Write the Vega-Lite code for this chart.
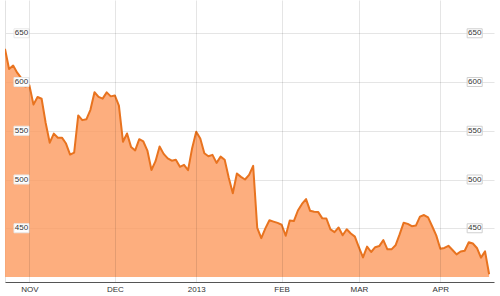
{
  "$schema": "https://vega.github.io/schema/vega-lite/v6.json",
  "width": 489,
  "height": 282,
  "autosize": {"type": "none"},
  "padding": {"left": 5, "right": 6, "top": 0, "bottom": 14},
  "background": "white",
  "config": {
    "view": {"stroke": null},
    "font": "Liberation Sans",
    "axis": {"labelFont": "Liberation Sans"}
  },
  "datasets": {
    "ticks": [{"v": 450}, {"v": 500}, {"v": 550}, {"v": 600}, {"v": 650}],
    "prices": [
      {"date": "2012-10-22", "day": 0, "close": 634.03},
      {"date": "2012-10-23", "day": 1, "close": 613.36},
      {"date": "2012-10-24", "day": 2, "close": 616.83},
      {"date": "2012-10-25", "day": 3, "close": 609.54},
      {"date": "2012-10-26", "day": 4, "close": 604.0},
      {"date": "2012-10-31", "day": 5, "close": 595.32},
      {"date": "2012-11-01", "day": 6, "close": 596.54},
      {"date": "2012-11-02", "day": 7, "close": 576.8},
      {"date": "2012-11-05", "day": 8, "close": 584.62},
      {"date": "2012-11-06", "day": 9, "close": 582.85},
      {"date": "2012-11-07", "day": 10, "close": 558.0},
      {"date": "2012-11-08", "day": 11, "close": 537.75},
      {"date": "2012-11-09", "day": 12, "close": 547.06},
      {"date": "2012-11-12", "day": 13, "close": 542.83},
      {"date": "2012-11-13", "day": 14, "close": 542.9},
      {"date": "2012-11-14", "day": 15, "close": 536.88},
      {"date": "2012-11-15", "day": 16, "close": 525.62},
      {"date": "2012-11-16", "day": 17, "close": 527.68},
      {"date": "2012-11-19", "day": 18, "close": 565.73},
      {"date": "2012-11-20", "day": 19, "close": 560.91},
      {"date": "2012-11-21", "day": 20, "close": 561.7},
      {"date": "2012-11-23", "day": 21, "close": 571.5},
      {"date": "2012-11-26", "day": 22, "close": 589.53},
      {"date": "2012-11-27", "day": 23, "close": 584.78},
      {"date": "2012-11-28", "day": 24, "close": 582.94},
      {"date": "2012-11-29", "day": 25, "close": 589.36},
      {"date": "2012-11-30", "day": 26, "close": 585.28},
      {"date": "2012-12-03", "day": 27, "close": 586.19},
      {"date": "2012-12-04", "day": 28, "close": 575.85},
      {"date": "2012-12-05", "day": 29, "close": 538.79},
      {"date": "2012-12-06", "day": 30, "close": 547.24},
      {"date": "2012-12-07", "day": 31, "close": 533.25},
      {"date": "2012-12-10", "day": 32, "close": 529.82},
      {"date": "2012-12-11", "day": 33, "close": 541.39},
      {"date": "2012-12-12", "day": 34, "close": 539.0},
      {"date": "2012-12-13", "day": 35, "close": 529.69},
      {"date": "2012-12-14", "day": 36, "close": 509.79},
      {"date": "2012-12-17", "day": 37, "close": 518.83},
      {"date": "2012-12-18", "day": 38, "close": 533.9},
      {"date": "2012-12-19", "day": 39, "close": 526.31},
      {"date": "2012-12-20", "day": 40, "close": 521.73},
      {"date": "2012-12-21", "day": 41, "close": 519.33},
      {"date": "2012-12-24", "day": 42, "close": 520.17},
      {"date": "2012-12-26", "day": 43, "close": 513.0},
      {"date": "2012-12-27", "day": 44, "close": 515.06},
      {"date": "2012-12-28", "day": 45, "close": 509.59},
      {"date": "2012-12-31", "day": 46, "close": 532.17},
      {"date": "2013-01-02", "day": 47, "close": 549.03},
      {"date": "2013-01-03", "day": 48, "close": 542.1},
      {"date": "2013-01-04", "day": 49, "close": 527.0},
      {"date": "2013-01-07", "day": 50, "close": 523.9},
      {"date": "2013-01-08", "day": 51, "close": 525.31},
      {"date": "2013-01-09", "day": 52, "close": 517.1},
      {"date": "2013-01-10", "day": 53, "close": 523.51},
      {"date": "2013-01-11", "day": 54, "close": 520.3},
      {"date": "2013-01-14", "day": 55, "close": 501.75},
      {"date": "2013-01-15", "day": 56, "close": 485.92},
      {"date": "2013-01-16", "day": 57, "close": 506.09},
      {"date": "2013-01-17", "day": 58, "close": 502.68},
      {"date": "2013-01-18", "day": 59, "close": 500.0},
      {"date": "2013-01-22", "day": 60, "close": 504.77},
      {"date": "2013-01-23", "day": 61, "close": 514.01},
      {"date": "2013-01-24", "day": 62, "close": 450.5},
      {"date": "2013-01-25", "day": 63, "close": 439.88},
      {"date": "2013-01-28", "day": 64, "close": 449.83},
      {"date": "2013-01-29", "day": 65, "close": 458.27},
      {"date": "2013-01-30", "day": 66, "close": 456.83},
      {"date": "2013-01-31", "day": 67, "close": 455.49},
      {"date": "2013-02-01", "day": 68, "close": 453.62},
      {"date": "2013-02-04", "day": 69, "close": 442.32},
      {"date": "2013-02-05", "day": 70, "close": 457.84},
      {"date": "2013-02-06", "day": 71, "close": 457.35},
      {"date": "2013-02-07", "day": 72, "close": 468.22},
      {"date": "2013-02-08", "day": 73, "close": 474.98},
      {"date": "2013-02-11", "day": 74, "close": 479.93},
      {"date": "2013-02-12", "day": 75, "close": 467.9},
      {"date": "2013-02-13", "day": 76, "close": 467.01},
      {"date": "2013-02-14", "day": 77, "close": 466.59},
      {"date": "2013-02-15", "day": 78, "close": 460.16},
      {"date": "2013-02-19", "day": 79, "close": 459.99},
      {"date": "2013-02-20", "day": 80, "close": 448.85},
      {"date": "2013-02-21", "day": 81, "close": 446.06},
      {"date": "2013-02-22", "day": 82, "close": 450.81},
      {"date": "2013-02-25", "day": 83, "close": 442.8},
      {"date": "2013-02-26", "day": 84, "close": 448.97},
      {"date": "2013-02-27", "day": 85, "close": 444.57},
      {"date": "2013-02-28", "day": 86, "close": 441.4},
      {"date": "2013-03-01", "day": 87, "close": 430.47},
      {"date": "2013-03-04", "day": 88, "close": 420.05},
      {"date": "2013-03-05", "day": 89, "close": 431.14},
      {"date": "2013-03-06", "day": 90, "close": 425.66},
      {"date": "2013-03-07", "day": 91, "close": 430.58},
      {"date": "2013-03-08", "day": 92, "close": 431.72},
      {"date": "2013-03-11", "day": 93, "close": 437.87},
      {"date": "2013-03-12", "day": 94, "close": 428.43},
      {"date": "2013-03-13", "day": 95, "close": 428.35},
      {"date": "2013-03-14", "day": 96, "close": 432.5},
      {"date": "2013-03-15", "day": 97, "close": 443.66},
      {"date": "2013-03-18", "day": 98, "close": 455.72},
      {"date": "2013-03-19", "day": 99, "close": 454.49},
      {"date": "2013-03-20", "day": 100, "close": 452.08},
      {"date": "2013-03-21", "day": 101, "close": 452.73},
      {"date": "2013-03-22", "day": 102, "close": 461.91},
      {"date": "2013-03-25", "day": 103, "close": 463.58},
      {"date": "2013-03-26", "day": 104, "close": 461.14},
      {"date": "2013-03-27", "day": 105, "close": 452.08},
      {"date": "2013-03-28", "day": 106, "close": 442.66},
      {"date": "2013-04-01", "day": 107, "close": 428.91},
      {"date": "2013-04-02", "day": 108, "close": 429.79},
      {"date": "2013-04-03", "day": 109, "close": 431.99},
      {"date": "2013-04-04", "day": 110, "close": 427.72},
      {"date": "2013-04-05", "day": 111, "close": 423.2},
      {"date": "2013-04-08", "day": 112, "close": 426.21},
      {"date": "2013-04-09", "day": 113, "close": 426.98},
      {"date": "2013-04-10", "day": 114, "close": 435.69},
      {"date": "2013-04-11", "day": 115, "close": 434.33},
      {"date": "2013-04-12", "day": 116, "close": 429.8},
      {"date": "2013-04-15", "day": 117, "close": 419.85},
      {"date": "2013-04-16", "day": 118, "close": 426.24},
      {"date": "2013-04-17", "day": 119, "close": 402.8}
    ]
  },
  "layer": [
    {
      "data": {"name": "prices"},
      "mark": {"type": "area", "color": "#fd9a5e", "opacity": 0.8, "clip": true},
      "encoding": {
        "x": {
          "field": "day", "type": "quantitative",
          "scale": {"domain": [0, 120.2], "nice": false, "zero": false},
          "axis": {
            "title": null,
            "values": [6, 27, 47, 68, 87, 107],
            "labelExpr": "datum.value == 6 ? 'NOV' : datum.value == 27 ? 'DEC' : datum.value == 47 ? '2013' : datum.value == 68 ? 'FEB' : datum.value == 87 ? 'MAR' : 'APR'",
            "grid": true, "gridColor": "#000", "gridOpacity": 0.1, "gridWidth": 1,
            "ticks": false, "labelPadding": 3, "labelFontSize": 8, "labelColor": "#333",
            "labelFlush": false, "domainColor": "#555", "domainWidth": 1, "zindex": 1
          }
        },
        "y": {
          "field": "close", "type": "quantitative",
          "scale": {"domain": [400, 679], "nice": false, "zero": false},
          "axis": {
            "title": null, "values": [450, 500, 550, 600, 650], "labels": false, "ticks": false,
            "grid": true, "gridColor": "#000", "gridOpacity": 0.1, "domainColor": "#e2e2e2"
          }
        },
        "y2": {"datum": 400}
      }
    },
    {
      "data": {"name": "prices"},
      "mark": {"type": "line", "color": "#e8731f", "strokeWidth": 2, "strokeJoin": "round", "clip": true},
      "encoding": {
        "x": {"field": "day", "type": "quantitative", "scale": {"domain": [0, 120.2], "nice": false, "zero": false}},
        "y": {"field": "close", "type": "quantitative", "scale": {"domain": [400, 679], "nice": false, "zero": false}}
      }
    },
    {
      "data": {"name": "ticks"},
      "mark": {"type": "bar", "orient": "horizontal", "size": 9, "color": "white", "stroke": "#e8e8e8", "strokeWidth": 1},
      "encoding": {
        "x": {"datum": 2.21, "type": "quantitative", "scale": {"domain": [0, 120.2], "nice": false, "zero": false}},
        "x2": {"datum": 5.9},
        "y": {"field": "v", "type": "quantitative", "scale": {"domain": [400, 679], "nice": false, "zero": false}}
      }
    },
    {
      "data": {"name": "ticks"},
      "mark": {"type": "bar", "orient": "horizontal", "size": 9, "color": "white", "stroke": "#cfcfcf", "strokeWidth": 1},
      "encoding": {
        "x": {"datum": 113.6, "type": "quantitative", "scale": {"domain": [0, 120.2], "nice": false, "zero": false}},
        "x2": {"datum": 117.3},
        "y": {"field": "v", "type": "quantitative", "scale": {"domain": [400, 679], "nice": false, "zero": false}}
      }
    },
    {
      "data": {"name": "ticks"},
      "mark": {"type": "text", "fontSize": 8, "color": "#333", "align": "center", "baseline": "middle", "font": "Liberation Sans"},
      "encoding": {
        "x": {"datum": 4.05, "type": "quantitative", "scale": {"domain": [0, 120.2], "nice": false, "zero": false}},
        "y": {"field": "v", "type": "quantitative", "scale": {"domain": [400, 679], "nice": false, "zero": false}},
        "text": {"field": "v", "type": "quantitative"}
      }
    },
    {
      "data": {"name": "ticks"},
      "mark": {"type": "text", "fontSize": 8, "color": "#333", "align": "center", "baseline": "middle", "font": "Liberation Sans"},
      "encoding": {
        "x": {"datum": 115.45, "type": "quantitative", "scale": {"domain": [0, 120.2], "nice": false, "zero": false}},
        "y": {"field": "v", "type": "quantitative", "scale": {"domain": [400, 679], "nice": false, "zero": false}},
        "text": {"field": "v", "type": "quantitative"}
      }
    }
  ]
}
